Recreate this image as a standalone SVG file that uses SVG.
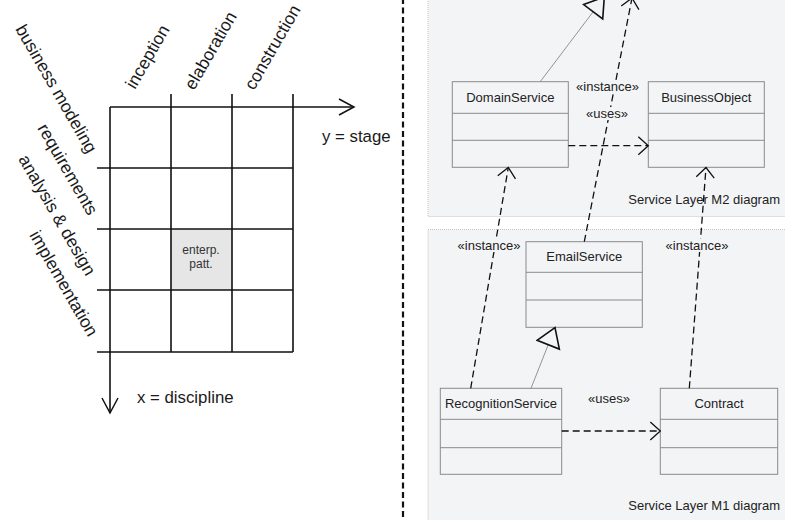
<svg xmlns="http://www.w3.org/2000/svg" width="785" height="520" viewBox="0 0 785 520">
<defs>
<style>
text{font-family:"Liberation Sans",Arial,sans-serif;fill:#1a1a1a}
.lbl{font-size:16.8px}
.rot{font-size:17.5px}
.cls{font-size:13px;fill:#222}
.st{font-size:13px;fill:#222}
.grid{stroke:#111;stroke-width:1.6;fill:none}
.box{fill:#f3f4f6;stroke:#8a8a8a;stroke-width:1}
.sep{stroke:#8a8a8a;stroke-width:1}
.pkg{fill:#f3f4f6;stroke:#c4c4c4;stroke-width:1;stroke-dasharray:1 1}
.dep{stroke:#111;stroke-width:1.3;fill:none;stroke-dasharray:7 4}
.gen{stroke:#888;stroke-width:0.9;fill:none}
.bg{fill:#f3f4f6}
</style>
<marker id="open" markerUnits="userSpaceOnUse" markerWidth="14" markerHeight="22" refX="11" refY="10" orient="auto">
<path d="M1,1 L11,10 L1,19" fill="none" stroke="#111" stroke-width="1.3"/>
</marker>
<marker id="tri" markerUnits="userSpaceOnUse" markerWidth="24" markerHeight="28" refX="20.5" refY="13" orient="auto">
<path d="M2,1 L20.5,13 L2,25 Z" fill="#f3f4f6" stroke="#111" stroke-width="1.6"/>
</marker>
<marker id="axis" markerUnits="userSpaceOnUse" markerWidth="18" markerHeight="20" refX="16" refY="9" orient="auto">
<path d="M1,1 L16,9 L1,17" fill="none" stroke="#111" stroke-width="1.5"/>
</marker>
</defs>

<g id="matrix">
<rect x="171" y="229" width="61" height="61" fill="#e6e6e6"/>
<g class="grid">
<line x1="110" y1="107" x2="354" y2="107" marker-end="url(#axis)"/>
<line x1="110" y1="107" x2="110" y2="413" marker-end="url(#axis)"/>
<line x1="171" y1="94" x2="171" y2="352"/>
<line x1="232" y1="94" x2="232" y2="352"/>
<line x1="293" y1="94" x2="293" y2="352"/>
<line x1="97" y1="168" x2="293" y2="168"/>
<line x1="97" y1="229" x2="293" y2="229"/>
<line x1="97" y1="290" x2="293" y2="290"/>
<line x1="97" y1="352" x2="293" y2="352"/>
</g>
<text x="201" y="254" font-size="12" text-anchor="middle" style="fill:#333">enterp.</text>
<text x="201" y="268" font-size="12" text-anchor="middle" style="fill:#333">patt.</text>
<text class="lbl" x="322" y="142">y = stage</text>
<text class="lbl" x="137" y="403">x = discipline</text>
<text class="rot" transform="translate(135,90) rotate(-60)">inception</text>
<text class="rot" transform="translate(194,91) rotate(-60)">elaboration</text>
<text class="rot" transform="translate(254,91) rotate(-60)">construction</text>
<text class="rot" transform="translate(15,29) rotate(60)">business modeling</text>
<text class="rot" transform="translate(37,128) rotate(60)">requirements</text>
<text class="rot" transform="translate(18,159) rotate(60)">analysis &amp; design</text>
<text class="rot" transform="translate(29,235) rotate(60)">implementation</text>
</g>

<line x1="403" y1="-2" x2="403" y2="522" stroke="#111" stroke-width="2.2" stroke-dasharray="6 3.5"/>

<g id="pkg-m2">
<rect class="pkg" x="428" y="-5" width="362" height="221.5"/>
<text class="st" x="780" y="204" text-anchor="end">Service Layer M2 diagram</text>
</g>
<g id="pkg-m1">
<rect class="pkg" x="428" y="229.5" width="362" height="300"/>
<text class="st" x="780" y="510" text-anchor="end">Service Layer M1 diagram</text>
</g>

<g id="DomainService">
<rect class="box" x="452.3" y="81.7" width="116" height="85.6"/>
<line class="sep" x1="452.3" y1="113.3" x2="568.3" y2="113.3"/>
<line class="sep" x1="452.3" y1="140.3" x2="568.3" y2="140.3"/>
<text class="cls" x="510.3" y="101.5" text-anchor="middle">DomainService</text>
</g>
<g id="BusinessObject">
<rect class="box" x="648.3" y="81.7" width="116" height="85.6"/>
<line class="sep" x1="648.3" y1="113.3" x2="764.3" y2="113.3"/>
<line class="sep" x1="648.3" y1="140.3" x2="764.3" y2="140.3"/>
<text class="cls" x="706.3" y="101.5" text-anchor="middle">BusinessObject</text>
</g>
<g id="EmailService">
<rect class="box" x="526" y="241.7" width="116.3" height="85.6"/>
<line class="sep" x1="526" y1="272.3" x2="642.3" y2="272.3"/>
<line class="sep" x1="526" y1="300" x2="642.3" y2="300"/>
<text class="cls" x="584.2" y="261" text-anchor="middle">EmailService</text>
</g>
<g id="RecognitionService">
<rect class="box" x="440.3" y="388.3" width="121.4" height="86"/>
<line class="sep" x1="440.3" y1="419.3" x2="561.7" y2="419.3"/>
<line class="sep" x1="440.3" y1="447.7" x2="561.7" y2="447.7"/>
<text class="cls" x="501" y="407.7" text-anchor="middle">RecognitionService</text>
</g>
<g id="Contract">
<rect class="box" x="660.3" y="388.3" width="117.4" height="86"/>
<line class="sep" x1="660.3" y1="419.3" x2="777.7" y2="419.3"/>
<line class="sep" x1="660.3" y1="447.7" x2="777.7" y2="447.7"/>
<text class="cls" x="719" y="407.7" text-anchor="middle">Contract</text>
</g>

<g id="connectors">
<line class="gen" x1="540" y1="82" x2="604.3" y2="-3" marker-end="url(#tri)"/>
<line class="gen" x1="531" y1="388.3" x2="555" y2="327.5" marker-end="url(#tri)"/>
<line class="dep" x1="584.3" y1="241.7" x2="632" y2="-2" marker-end="url(#open)"/>
<line class="dep" x1="470.7" y1="388.3" x2="508.3" y2="167.5" marker-end="url(#open)"/>
<line class="dep" x1="689.3" y1="388.3" x2="706" y2="167.5" marker-end="url(#open)"/>
<line class="dep" x1="568.3" y1="145.7" x2="648.3" y2="145.7" marker-end="url(#open)"/>
<line class="dep" x1="561.7" y1="431" x2="660.3" y2="431" marker-end="url(#open)"/>
<rect class="bg" x="578" y="80" width="60" height="13"/>
<text class="st" x="607.5" y="90.5" text-anchor="middle">«instance»</text>
<rect class="bg" x="588" y="107" width="38" height="13"/>
<text class="st" x="607" y="118" text-anchor="middle">«uses»</text>
<rect class="bg" x="459" y="239" width="60" height="13"/>
<text class="st" x="489" y="250" text-anchor="middle">«instance»</text>
<rect class="bg" x="667" y="239" width="60" height="13"/>
<text class="st" x="697" y="250" text-anchor="middle">«instance»</text>
<text class="st" x="609" y="403" text-anchor="middle">«uses»</text>
</g>
</svg>
